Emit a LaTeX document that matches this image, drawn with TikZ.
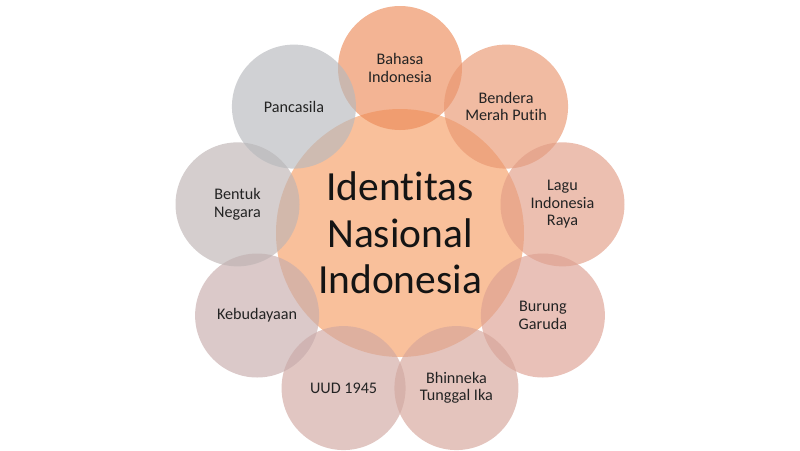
\documentclass[tikz,border=0pt]{standalone}
\usepackage{fontspec}
\setmainfont{Carlito}[Ligatures=NoCommon]
% fills (drawn at 65% opacity)
\definecolor{hubfill}{RGB}{246,158,101}
\definecolor{bahasafill}{RGB}{236,140,90}
\definecolor{benderafill}{RGB}{233,150,112}
\definecolor{lagufill}{RGB}{226,157,134}
\definecolor{burungfill}{RGB}{221,160,146}
\definecolor{bhinnekafill}{RGB}{214,165,154}
\definecolor{uudfill}{RGB}{209,168,162}
\definecolor{budayafill}{RGB}{199,172,172}
\definecolor{bentukfill}{RGB}{190,180,180}
\definecolor{pancafill}{RGB}{183,185,189}
\definecolor{labeltext}{RGB}{35,35,35}
\tikzset{
  hub/.style={circle, fill=hubfill, fill opacity=.65, text opacity=1,
    minimum size=4.96cm, inner sep=0pt, align=center, text=black!92,
    font=\fontsize{23.6}{26.4}\selectfont},
  petal/.style={circle, fill opacity=.65, text opacity=1,
    minimum size=2.48cm, inner sep=0pt, align=center, text=labeltext,
    font=\fontsize{9.2}{9.9}\selectfont}
}
\begin{document}
\begin{tikzpicture}[x=1cm, y=1cm]
      \useasboundingbox (-8,-4.34) rectangle (8,4.66);
      %
      \node[hub] (hub) at (0,0) {Identitas\\Nasional\\Indonesia}; % centre
      %
      \node[petal, fill=bahasafill]   (bahasa)   at (90:3.3)  {Bahasa\\Indonesia};
      \node[petal, fill=benderafill]  (bendera)  at (50:3.3)  {Bendera\\Merah Putih};
      \node[petal, fill=lagufill]     (lagu)     at (10:3.3)  {Lagu\\Indonesia\\Raya};
      \node[petal, fill=burungfill]   (burung)   at (-30:3.3) {Burung\\Garuda};
      \node[petal, fill=bhinnekafill] (bhinneka) at (-70:3.3) {Bhinneka\\Tunggal Ika};
      %
      \node[petal, fill=uudfill]      (uud)      at (-110:3.3) {UUD 1945};
      \node[petal, fill=budayafill]   (budaya)   at (-150:3.3) {Kebudayaan};
      \node[petal, fill=bentukfill]   (bentuk)   at (170:3.3)  {Bentuk\\Negara};
      \node[petal, fill=pancafill]    (panca)    at (130:3.3)  {Pancasila};
      %
    \end{tikzpicture}
\end{document}
